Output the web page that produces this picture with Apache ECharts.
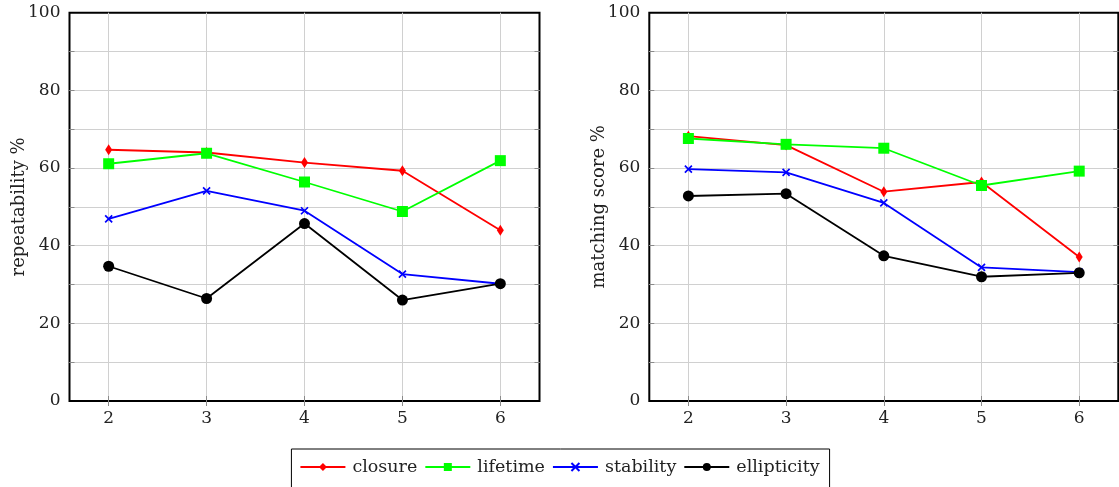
<!DOCTYPE html>
<html><head><meta charset="utf-8">
<script src="https://cdn.jsdelivr.net/npm/echarts@6/dist/echarts.min.js"></script>
<style>html,body{margin:0;padding:0;background:#fff}#c{width:1119px;height:487px}</style>
</head><body><div id="c"></div>
<script>
const xValues = [2, 3, 4, 5, 6];
const xTicks = [2, 3, 4, 5, 6];
const yLabelTicks = [0, 20, 40, 60, 80, 100];
const yGridTicks = [10, 20, 30, 40, 50, 60, 70, 80, 90];
const seriesNames = ['closure', 'lifetime', 'stability', 'ellipticity'];
const yNames = ['repeatability %', 'matching score %'];

const repClosure     = [64.7, 64.0, 61.4, 59.3, 44.0];
const repLifetime    = [61.1, 63.8, 56.4, 48.8, 61.9];
const repStability   = [46.9, 54.1, 49.0, 32.7, 30.2];
const repEllipticity = [34.7, 26.4, 45.7, 26.0, 30.2];

const matClosure     = [68.2, 65.9, 53.9, 56.4, 37.1];
const matLifetime    = [67.6, 66.1, 65.1, 55.5, 59.2];
const matStability   = [59.7, 58.9, 51.0, 34.4, 33.2];
const matEllipticity = [52.8, 53.4, 37.4, 32.0, 33.0];

const plots = [
  [repClosure, repLifetime, repStability, repEllipticity],
  [matClosure, matLifetime, matStability, matEllipticity]
];

const FONT = 'DejaVu Serif';
const styles = [
  {color: '#ff0000', symbol: 'diamond', size: [7, 11]},
  {color: '#00ff00', symbol: 'rect', size: 11},
  {color: '#0000ff', symbol: 'path://M0,0L10,10M10,0L0,10', size: 7},
  {color: '#000000', symbol: 'circle', size: 11}
];

const grids = [
  {left: 69.5, top: 12.7, width: 470, height: 388.3},
  {left: 649.3, top: 12.7, width: 469, height: 388.3}
].map(g => Object.assign(g, {show: true, borderColor: '#000', borderWidth: 2, backgroundColor: 'transparent'}));

const tickStyle = {inside: true, length: 5, lineStyle: {color: '#8a8a8a', width: 1}};
const xAxes = [], yAxes = [], series = [];
grids.forEach((g, i) => {
  xAxes.push({gridIndex: i, type: 'value', min: 1.6, max: 6.4, position: 'bottom',
    axisLine: {show: false},
    axisTick: Object.assign({customValues: xTicks}, tickStyle),
    axisLabel: {customValues: xTicks, margin: 9, fontFamily: FONT, fontSize: 17, color: '#222'},
    splitLine: {show: true, lineStyle: {color: '#d0d0d0', width: 1}}});
  xAxes.push({gridIndex: i, type: 'value', min: 1.6, max: 6.4, position: 'top',
    axisLine: {show: false},
    axisTick: Object.assign({customValues: xTicks}, tickStyle),
    axisLabel: {show: false}, splitLine: {show: false}});
  yAxes.push({gridIndex: i, type: 'value', min: 0, max: 100, interval: 10, position: 'left',
    name: yNames[i], nameLocation: 'middle', nameGap: 41, nameRotate: 90, nameMoveOverlap: false,
    nameTextStyle: {fontFamily: FONT, fontSize: 18, color: '#222'},
    axisLine: {show: false},
    axisTick: Object.assign({customValues: yGridTicks}, tickStyle),
    axisLabel: {customValues: yLabelTicks, margin: 9, fontFamily: FONT, fontSize: 17, color: '#222'},
    splitLine: {show: true, lineStyle: {color: '#d0d0d0', width: 1}}});
  yAxes.push({gridIndex: i, type: 'value', min: 0, max: 100, interval: 10, position: 'right',
    axisLine: {show: false},
    axisTick: Object.assign({customValues: yGridTicks}, tickStyle),
    axisLabel: {show: false}, splitLine: {show: false}});
  plots[i].forEach((arr, k) => {
    const s = styles[k];
    series.push({
      name: seriesNames[k], type: 'line', xAxisIndex: i * 2, yAxisIndex: i * 2,
      data: xValues.map((x, j) => [x, arr[j]]),
      symbol: s.symbol, symbolSize: s.size, showAllSymbol: true,
      lineStyle: {color: s.color, width: 1.8},
      itemStyle: {color: s.color, borderColor: s.color, borderWidth: k === 2 ? 1.7 : 0},
      emphasis: {disabled: true}
    });
  });
});

const chart = echarts.init(document.getElementById('c'));
chart.setOption({
  animation: false,
  grid: grids, xAxis: xAxes, yAxis: yAxes, series: series,
  legend: {
    data: seriesNames, left: 'center', top: 449,
    itemWidth: 45, itemHeight: 10, itemGap: 7,
    padding: [9, 10, 20, 8],
    borderColor: '#000', borderWidth: 1,
    textStyle: {fontFamily: FONT, fontSize: 17.5, color: '#222', padding: [0, 0, 0, 2]}
  }
});
</script></body></html>
